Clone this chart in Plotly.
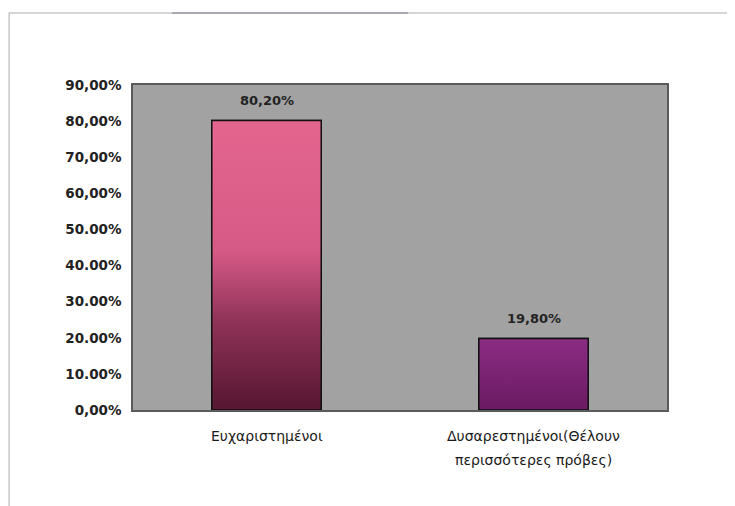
import plotly.graph_objects as go

categories = ["Ευχαριστημένοι", "Δυσαρεστημένοι(Θέλουν<br>περισσότερες πρόβες)"]
values = [80.2, 19.8]
value_labels = ["80,20%", "19,80%"]
y_ticks = [0, 10, 20, 30, 40, 50, 60, 70, 80, 90]
y_tick_labels = ["0,00%", "10.00%", "20.00%", "30.00%", "40.00%",
                 "50.00%", "60,00%", "70,00%", "80,00%", "90,00%"]

bar_w = 0.41
positions = list(range(len(categories)))

# gradient per bar (bottom -> top)
gradients = [
    [[0, "#561631"], [0.3, "#8e3258"], [0.55, "#d65a86"], [1, "#e4668f"]],
    [[0, "#6a1a62"], [1, "#8c2c84"]],
]

fig = go.Figure()

# base bars
fig.add_trace(go.Bar(
    x=positions, y=values, width=bar_w,
    marker=dict(color=["#c04a74", "#7c2474"], line=dict(color="#111", width=1.5)),
    hoverinfo="skip",
))

# gradient overlays built from the same data
for i, (p, v) in enumerate(zip(positions, values)):
    fig.add_trace(go.Scatter(
        x=[p - bar_w / 2, p + bar_w / 2, p + bar_w / 2, p - bar_w / 2, p - bar_w / 2],
        y=[0, 0, v, v, 0],
        mode="lines", fill="toself",
        fillgradient=dict(type="vertical", colorscale=gradients[i]),
        line=dict(color="#111", width=1.5),
        hoverinfo="skip",
    ))

annotations = []
# value labels above the bars
for p, v, lab in zip(positions, values, value_labels):
    annotations.append(dict(
        x=p, y=v, xref="x", yref="y", text=lab, showarrow=False,
        yanchor="middle", yshift=20,
        font=dict(family="DejaVu Sans", size=13, color="#222", weight="bold"),
    ))

# category labels, one line at a time for the wide line spacing
for p, cat in zip(positions, categories):
    for k, line in enumerate(cat.split("<br>")):
        annotations.append(dict(
            x=p, y=0, xref="x", yref="y", text=line, showarrow=False,
            yanchor="middle", yshift=-26 - 24 * k,
            font=dict(family="DejaVu Sans", size=14, color="#1a1a1a"),
        ))

fig.update_layout(
    width=735, height=506,
    margin=dict(l=125, r=76, t=77, b=104),
    paper_bgcolor="white",
    plot_bgcolor="#a2a2a2",
    showlegend=False,
    font=dict(family="DejaVu Sans", color="#222"),
    xaxis=dict(
        range=[-0.5, 1.5], tickvals=positions, showticklabels=False,
        showgrid=False, zeroline=False, ticks="",
        showline=True, mirror=True, linecolor="#5a5a5a", linewidth=1.5,
    ),
    yaxis=dict(
        range=[0, 90], tickvals=y_ticks, ticktext=y_tick_labels,
        showgrid=False, zeroline=False, ticks="",
        showline=True, mirror=True, linecolor="#5a5a5a", linewidth=1.5,
        tickfont=dict(size=13.5, color="#222", weight="bold"), ticklabelstandoff=7,
    ),
    annotations=annotations,
    shapes=[
        dict(type="rect", xref="paper", yref="paper",
             x0=-0.232, x1=1.2, y0=-0.4, y1=1.2215,
             line=dict(color="#c8c8c8", width=1.5)),
        dict(type="line", xref="paper", yref="paper",
             x0=0.073, x1=0.515, y0=1.2215, y1=1.2215,
             line=dict(color="#a8a8b0", width=2)),
    ],
)

fig.write_html("out.html")
